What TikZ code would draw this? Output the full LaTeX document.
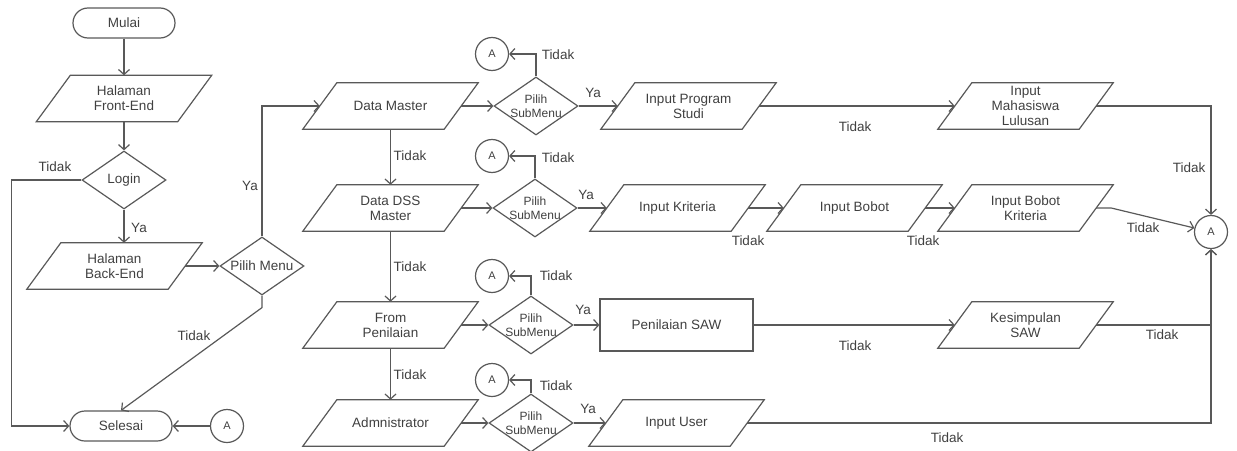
\documentclass[tikz,border=0pt]{standalone}
\usepackage{fontspec}
\setmainfont{Liberation Sans}
\usetikzlibrary{shapes.geometric,arrows.meta}

\tikzset{
  box/.style={draw=black!65, line width=1.2pt},
  terminal/.style={box, rectangle, rounded corners=15pt, minimum width=102pt, minimum height=30pt},
  % slanted input box, the body is a plain rectangle and the outline is drawn afterwards
  io/.style={rectangle, minimum width=141pt, minimum height=46pt, inner sep=0pt, align=center,
    append after command={\pgfextra{\let\iobox=\tikzlastnode
      \draw[box] ([xshift=17pt]\iobox.north west) -- ([xshift=17pt]\iobox.north east)
        -- ([xshift=-17pt]\iobox.south east) -- ([xshift=-17pt]\iobox.south west) -- cycle;}}},
  process/.style={box, rectangle, minimum width=153pt, minimum height=52pt},
  decision/.style={box, diamond, minimum width=84pt, minimum height=58pt, inner sep=0pt},
  submenu/.style={decision, label={[font=\fontsize{12}{14}\selectfont, align=center]center:Pilih\\SubMenu}},
  connector/.style={box, circle, minimum size=33pt, inner sep=0pt, font=\fontsize{11}{13}\selectfont},
  flow/.style={draw=black!65, line width=1.2pt, -{Straight Barb[length=5pt,width=11pt]}}
}

\begin{document}
\begin{tikzpicture}[x=1pt, y=-1pt, every node/.append style={text=black!75, font=\fontsize{13.5}{15}\selectfont}]
        \useasboundingbox (0,0) rectangle (1237,450);

        % Start, login and main menu
        \node[terminal] (mulai) at (124,23) {Mulai};
        \node[io] (front) at (124,98.5) {Halaman\\Front-End};
        \node[decision, label=center:Login] (login) at (124,180) {};
        \node[io] (back) at (114.5,266) {Halaman\\Back-End};
        \node[decision, label=center:Pilih Menu] (menu) at (262,266) {};
        \node[terminal] (selesai) at (121,426) {Selesai};
        \node[connector] (a0) at (227,426) {A};

        % Menu entries
        \node[io] (master) at (390.5,106) {Data Master};
        \node[io] (dss) at (390.5,208) {Data DSS\\Master};
        \node[io] (penilaian) at (390.5,325) {From\\Penilaian};
        \node[io] (admin) at (390.5,423) {Admnistrator};

        % Sub menus
        \node[submenu] (sub1) at (536,106) {};
        \node[submenu] (sub2) at (535,208) {};
        \node[submenu] (sub3) at (531,325) {};
        \node[submenu] (sub4) at (531,423) {};
        \node[connector] (a1) at (492,54) {A};
        \node[connector] (a2) at (492,156) {A};
        \node[connector] (a3) at (492,276) {A};
        \node[connector] (a4) at (492,380) {A};

        % Inputs per sub menu
        \node[io] (prodi) at (688.5,106) {Input Program\\Studi};
        \node[io] (mhs) at (1025.5,106) {Input\\Mahasiswa\\Lulusan};
        \node[io] (kriteria) at (677.5,208) {Input Kriteria};
        \node[io] (bobot) at (854.5,208) {Input Bobot};
        \node[io] (bobotkrit) at (1025.5,208) {Input Bobot\\Kriteria};
        \node[process] (saw) at (676.5,325) {Penilaian SAW};
        \node[io] (kesimpulan) at (1025.5,325) {Kesimpulan\\SAW};
        \node[io] (user) at (676.5,423) {Input User};
        \node[connector] (aend) at (1211,232) {A};

        % Main flow
        \draw[flow] (mulai) -- (front);
        \draw[flow] (front) -- (login);
        \draw[flow] (login) -- (login.south |- back.north);
        \draw[flow] (login.west) -- ++(-70,0) |- (selesai.west);
        \draw[flow] (back) -- (menu);
        \draw[flow] (menu.north) |- (master.west);
        \draw[flow] (menu.south) -- ++(0,12) -- (selesai.north);
        \draw[flow] (a0) -- (selesai);

        % Menu chain
        \draw[flow] (master) -- (dss);
        \draw[flow] (dss) -- (penilaian);
        \draw[flow] (penilaian) -- (admin);

        % Data Master
        \draw[flow] (master) -- (sub1);
        \draw[flow] (sub1.north) |- (a1);
        \draw[flow] (sub1) -- (prodi);
        \draw[flow] (prodi) -- (mhs);
        \draw[flow] (mhs) -| (aend);

        % Data DSS Master
        \draw[flow] (dss) -- (sub2);
        \draw[flow] (sub2.north) |- (a2);
        \draw[flow] (sub2) -- (kriteria);
        \draw[flow] (kriteria) -- (bobot);
        \draw[flow] (bobot) -- (bobotkrit);
        \draw[flow] (bobotkrit.east) -- ++(15,0) -- (aend);

        % From Penilaian
        \draw[flow] (penilaian) -- (sub3);
        \draw[flow] (sub3.north) |- (a3);
        \draw[flow] (sub3) -- (saw);
        \draw[flow] (saw) -- (kesimpulan);
        \draw[flow] (kesimpulan) -| (aend);

        % Admnistrator
        \draw[flow] (admin) -- (sub4);
        \draw[flow] (sub4.north) |- (a4);
        \draw[flow] (sub4) -- (user);
        \draw[flow] (user) -| (aend);

        % Labels
        \node (tLogin) at (55,167) {Tidak};
        \node (yLogin) at (139,228) {Ya};
        \node (yMenu) at (250,186) {Ya};
        \node (tMenu) at (194,336) {Tidak};
        \node (tMaster) at (410,156) {Tidak};
        \node (tDss) at (410,267) {Tidak};
        \node (tPenilaian) at (410,375) {Tidak};
        \node (tSub1) at (558,55) {Tidak};
        \node (tSub2) at (558,158) {Tidak};
        \node (tSub3) at (556,276) {Tidak};
        \node (tSub4) at (556,386) {Tidak};
        \node (ySub1) at (593,93) {Ya};
        \node (ySub2) at (586,195) {Ya};
        \node (ySub3) at (583,310) {Ya};
        \node (ySub4) at (588,409) {Ya};
        \node (tProdi) at (855,127) {Tidak};
        \node (tMhs) at (1189,168) {Tidak};
        \node (tKriteria) at (748,241) {Tidak};
        \node (tBobot) at (923,241) {Tidak};
        \node (tBobotKrit) at (1143,228) {Tidak};
        \node (tSaw) at (855,346) {Tidak};
        \node (tKesimpulan) at (1162,335) {Tidak};
        \node (tUser) at (947,438) {Tidak};
\end{tikzpicture}
\end{document}
